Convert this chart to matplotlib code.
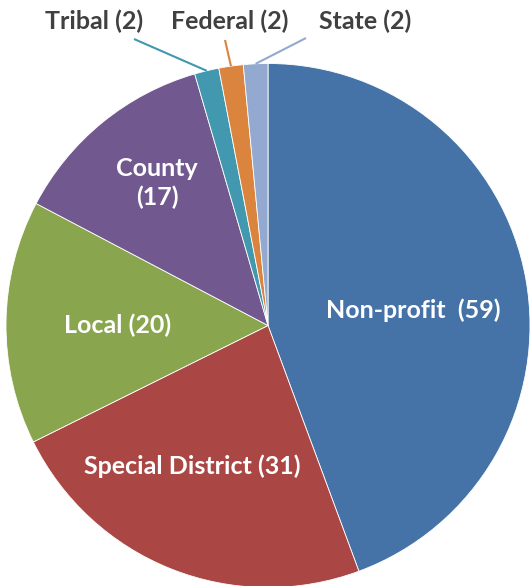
import matplotlib
matplotlib.use("Agg")
import matplotlib.pyplot as plt
import numpy as np

categories = ["Non-profit", "Special District", "Local", "County", "Tribal", "Federal", "State"]
values = [59, 31, 20, 17, 2, 2, 2]
colors = ["#4572A7", "#AA4643", "#89A54E", "#71588F", "#4198AF", "#DB843D", "#93A9CF"]

W, H = 530, 586
fig = plt.figure(figsize=(W / 100, H / 100), dpi=100)
ax = fig.add_axes([0, 0, 1, 1])

cx, cy, R = 268, H - 325.5, 262
wedges, _ = ax.pie(values, colors=colors, startangle=90, counterclock=False,
                   center=(cx, cy), radius=R, frame=True,
                   wedgeprops=dict(edgecolor="white", linewidth=0.6))
ax.set_xlim(0, W)
ax.set_ylim(0, H)
ax.axis("off")

font = dict(family=["Lato", "DejaVu Sans"], fontweight="bold", fontsize=18)

# inside labels (pixel positions, y from top)
inside = {
    "Non-profit": (413, 310, "Non-profit  (59)"),
    "Special District": (192, 466, "Special District (31)"),
    "Local": (118, 325, "Local (20)"),
    "County": (157, 183, "County\n(17)"),
}
for name, (x, y, txt) in inside.items():
    ax.text(x, H - y, txt, color="white", ha="center", va="center",
            linespacing=1.3, **font)

# outside labels with leader lines
outside = {
    "Tribal": ((94, 21), (134, 39)),
    "Federal": ((230, 21), (225, 40)),
    "State": ((365, 21), (306, 38)),
}
for i, name in enumerate(categories):
    if name not in outside:
        continue
    (tx, ty), (lx, ly) = outside[name]
    w = wedges[i]
    ang = np.deg2rad((w.theta1 + w.theta2) / 2)
    ex, ey = cx + R * np.cos(ang), cy + R * np.sin(ang)
    ax.plot([lx, ex], [H - ly, ey], color=colors[i], lw=1.5, solid_capstyle="butt")
    ax.text(tx, H - ty, f"{name} ({values[i]})", color="#404040",
            ha="center", va="center", **font)

fig.savefig("out.png", dpi=100)
